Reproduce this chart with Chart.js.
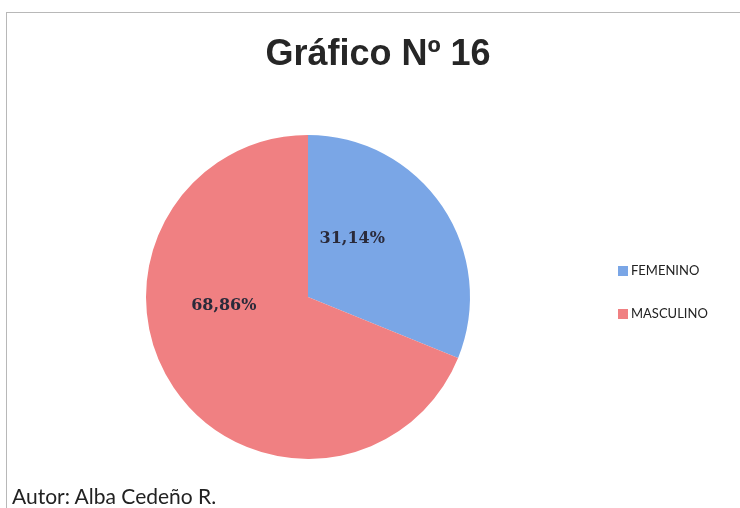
<!DOCTYPE html>
<html>
<head>
<meta charset="utf-8">
<script src="https://cdn.jsdelivr.net/npm/chart.js@4.4.0/dist/chart.umd.min.js"></script>
<style>
  html, body { margin: 0; padding: 0; background: #fff; }
  #wrap { position: relative; width: 740px; height: 508px; overflow: hidden; }
  #frame { position: absolute; left: 6px; top: 12px; width: 760px; height: 520px;
           border: 1px solid #b8b8b8; box-sizing: border-box; }
  #chart { position: absolute; left: 0; top: 0; }
  #title { position: absolute; left: 0; width: 756px; top: 32px; text-align: center;
           font-family: "Liberation Sans", Arial, sans-serif; font-weight: bold; font-size: 36px; color: #262626; }
  #autor { position: absolute; left: 12px; top: 483px; font-family: Lato, "Open Sans", sans-serif;
           font-size: 21px; color: #222; }
</style>
</head>
<body>
<div id="wrap">
  <div id="frame"></div>
  <canvas id="chart" width="740" height="508"></canvas>
  <div id="title">Gráfico Nº 16</div>
  <div id="autor">Autor: Alba Cedeño R.</div>
</div>
<script>
// Data
const categories = ['FEMENINO', 'MASCULINO'];
const values = [31.14, 68.86];
const sliceColors = ['rgb(122, 166, 230)', 'rgb(240, 128, 130)'];
// label nudges relative to the slice midpoint
const labelShift = [[-23, -13], [-17, -36]];

const fmt = v => v.toFixed(2).replace('.', ',') + '%';

// Percent labels inside slices
const sliceLabels = {
    id: 'sliceLabels',
    afterDatasetsDraw(chart) {
        const ctx = chart.ctx;
        const meta = chart.getDatasetMeta(0);
        ctx.save();
        ctx.font = 'bold 16px "DejaVu Serif", "Liberation Serif", serif';
        ctx.fillStyle = '#2a2a3a';
        ctx.textAlign = 'center';
        ctx.textBaseline = 'middle';
        meta.data.forEach((arc, i) => {
            const p = arc.tooltipPosition();
            ctx.fillText(fmt(values[i]), p.x + labelShift[i][0], p.y + labelShift[i][1]);
        });
        ctx.restore();
    }
};

// Legend drawn at the right, Excel style
const sideLegend = {
    id: 'sideLegend',
    afterDraw(chart) {
        const ctx = chart.ctx;
        ctx.save();
        ctx.font = '13px Lato, "Open Sans", sans-serif';
        ctx.textBaseline = 'middle';
        categories.forEach((c, i) => {
            const y = 271 + i * 43;
            ctx.fillStyle = sliceColors[i];
            ctx.fillRect(618, y - 5, 10, 10);
            ctx.fillStyle = '#222';
            ctx.fillText(c, 631, y);
        });
        ctx.restore();
    }
};

new Chart(document.getElementById('chart'), {
    type: 'pie',
    data: {
        labels: categories,
        datasets: [{
            data: values,
            backgroundColor: sliceColors,
            borderWidth: 0
        }]
    },
    options: {
        responsive: false,
        animation: false,
        layout: {
            padding: { left: 146, right: 270, top: 134, bottom: 48 }
        },
        plugins: {
            legend: { display: false },
            tooltip: { enabled: false },
            title: { display: false }
        }
    },
    plugins: [sliceLabels, sideLegend]
});
</script>
</body>
</html>
